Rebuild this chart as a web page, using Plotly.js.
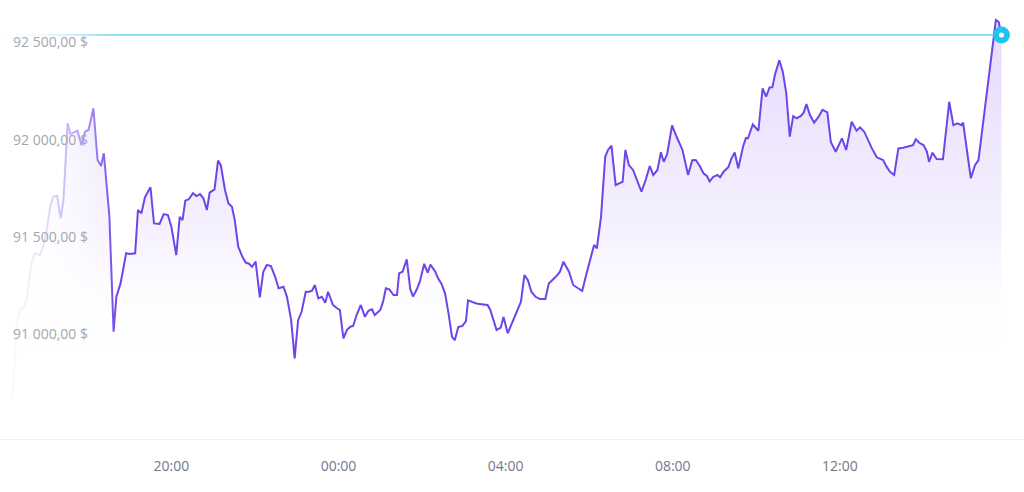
<!DOCTYPE html>
<html>
<head>
<meta charset="utf-8">
<script src="https://cdn.plot.ly/plotly-3.0.1.min.js"></script>
<style>html,body{margin:0;padding:0;background:#fff;}#chart{width:1024px;height:492px;}</style>
</head>
<body>
<div id="chart"></div>
<script>
// Time of each sample (HH:MM); the series runs across midnight into the next day
const startDay = '2025-01-14';
const times = ['16:12','16:18','16:22','16:27','16:32','16:39','16:44','16:51','16:56','17:01','17:06','17:10','17:16','17:21','17:25','17:31','17:35','17:40','17:45','17:51','17:56','18:01','18:08','18:14','18:19','18:23','18:31','18:37','18:41','18:47','18:55','19:00','19:08','19:12','19:17','19:22','19:30','19:35','19:43','19:49','19:55','20:00','20:07','20:12','20:16','20:20','20:25','20:31','20:36','20:41','20:46','20:51','20:55','21:02','21:07','21:11','21:17','21:22','21:27','21:31','21:36','21:42','21:47','21:51','21:56','22:01','22:07','22:12','22:17','22:23','22:29','22:34','22:41','22:46','22:52','22:57','23:02','23:07','23:13','23:18','23:22','23:26','23:31','23:36','23:41','23:45','23:52','23:58','00:02','00:07','00:12','00:17','00:21','00:26','00:32','00:38','00:43','00:48','00:52','01:00','01:04','01:08','01:13','01:19','01:24','01:27','01:32','01:38','01:43','01:47','01:52','01:57','02:03','02:08','02:12','02:19','02:23','02:28','02:33','02:38','02:43','02:47','02:52','02:58','03:03','03:06','03:11','03:18','03:28','03:34','03:38','03:42','03:47','03:53','03:57','04:03','04:09','04:13','04:18','04:22','04:27','04:32','04:37','04:43','04:49','04:57','05:02','05:07','05:13','05:18','05:23','05:31','05:37','05:44','05:50','05:56','06:01','06:07','06:11','06:17','06:23','06:27','06:32','06:38','06:43','06:48','06:52','06:57','07:03','07:10','07:15','07:21','07:27','07:32','07:38','07:43','07:47','07:52','07:59','08:06','08:14','08:22','08:28','08:33','08:39','08:44','08:49','08:53','08:58','09:04','09:08','09:13','09:20','09:24','09:29','09:34','09:41','09:45','09:48','09:55','10:03','10:09','10:14','10:19','10:23','10:27','10:33','10:38','10:43','10:48','10:53','10:58','11:04','11:08','11:12','11:17','11:23','11:29','11:35','11:42','11:47','11:54','12:03','12:09','12:17','12:24','12:29','12:35','12:41','12:46','12:53','13:02','13:07','13:12','13:18','13:24','13:31','13:38','13:45','13:49','13:54','14:00','14:05','14:08','14:13','14:19','14:28','14:37','14:43','14:49','14:54','14:57','15:03','15:08','15:14','15:19','15:44','15:48','15:52'];
// Price (USD)
const prices = [90668,91054,91123,91132,91174,91363,91415,91406,91449,91535,91655,91706,91710,91595,91689,92084,92029,92036,92046,91972,92041,92050,92161,91895,91864,91930,91603,91011,91191,91260,91415,91411,91415,91638,91621,91703,91755,91569,91566,91617,91612,91552,91406,91603,91586,91686,91693,91724,91710,91720,91698,91638,91727,91744,91892,91869,91741,91672,91655,91586,91449,91397,91366,91363,91346,91372,91188,91320,91355,91349,91294,91235,91243,91191,91071,90874,91071,91114,91217,91217,91222,91252,91183,91191,91160,91217,91149,91132,91123,90977,91020,91037,91041,91097,91149,91088,91119,91127,91097,91123,91166,91235,91229,91200,91200,91312,91320,91384,91231,91193,91226,91272,91361,91315,91357,91320,91286,91257,91209,91106,90985,90968,91035,91041,91066,91173,91166,91157,91152,91149,91123,91077,91020,91033,91087,91003,91054,91097,91140,91166,91303,91277,91217,91191,91180,91180,91260,91277,91298,91320,91372,91320,91252,91235,91221,91308,91380,91458,91441,91603,91912,91947,91969,91766,91775,91783,91947,91869,91844,91775,91732,91792,91864,91818,91844,91935,91886,91926,92073,92011,91947,91818,91894,91895,91863,91827,91813,91785,91808,91818,91806,91835,91859,91901,91934,91852,91965,92008,92007,92078,92046,92264,92221,92269,92270,92338,92408,92350,92240,92016,92121,92110,92122,92139,92183,92127,92088,92116,92154,92141,91988,91938,92007,91947,92092,92046,92063,92041,91989,91955,91909,91895,91861,91835,91818,91955,91958,91964,91972,92002,91984,91972,91938,91886,91933,91900,91899,92195,92075,92084,92075,92087,91930,91801,91869,91895,92616,92607,92539];
// Axis tick labels
const xTickLabels = ['20:00','00:00','04:00','08:00','12:00'];
const yTickValues = [90500,91000,91500,92000,92500];
const yTickLabels = ['90 500,00 $','91 000,00 $','91 500,00 $','92 000,00 $','92 500,00 $'];

function addDays(dateStr, n){
  const d = new Date(dateStr + 'T00:00:00Z');
  d.setUTCDate(d.getUTCDate() + n);
  return d.toISOString().slice(0,10);
}
function toDates(list, firstDay, startAfter){
  let day = 0, prev = startAfter || '00:00';
  return list.map(hm => {
    if (hm < prev) day++;
    prev = hm;
    return addDays(firstDay, day) + ' ' + hm;
  });
}
const x = toDates(times, startDay);
const xTicks = toDates(xTickLabels, startDay, times[0]);

const xRange = [startDay + ' 15:53:54', addDays(startDay,1) + ' 16:24:24'];
const yRange = [90459, 92719];
const fadeEnd = startDay + ' 18:44';

const lastX = x[x.length-1];
const lastY = prices[prices.length-1];

const traces = [
  {
    x: x, y: prices, type: 'scatter', mode: 'lines',
    line: {color: '#6e45e9', width: 2},
    fill: 'tozeroy',
    fillgradient: {type: 'vertical', start: 90900, stop: 92650,
      colorscale: [[0,'rgba(255,255,255,0)'],[0.35,'rgba(160,120,245,0.10)'],[1,'rgba(150,110,245,0.26)']]},
    hoverinfo: 'skip'
  },
  {
    x: [xRange[0], fadeEnd, fadeEnd, xRange[0]],
    y: [yRange[0], yRange[0], yRange[1], yRange[1]],
    type: 'scatter', mode: 'lines', line: {width: 0, color: 'rgba(0,0,0,0)'},
    fill: 'toself',
    fillgradient: {type: 'horizontal',
      colorscale: [[0,'rgba(255,255,255,1)'],[0.1,'rgba(255,255,255,0.97)'],[0.35,'rgba(255,255,255,0.86)'],[0.6,'rgba(255,255,255,0.6)'],[0.82,'rgba(255,255,255,0.28)'],[1,'rgba(255,255,255,0)']]},
    hoverinfo: 'skip'
  },
  {
    x: [lastX], y: [lastY], type: 'scatter', mode: 'markers',
    marker: {size: 17, color: '#1ec3f0'}, hoverinfo: 'skip'
  },
  {
    x: [lastX], y: [lastY], type: 'scatter', mode: 'markers',
    marker: {size: 5, color: '#ffffff'}, hoverinfo: 'skip'
  }
];

const layout = {
  width: 1024, height: 492,
  margin: {l: 0, r: 0, t: 0, b: 53},
  paper_bgcolor: '#ffffff', plot_bgcolor: '#ffffff',
  showlegend: false,
  font: {family: 'Open Sans, sans-serif'},
  xaxis: {
    type: 'date', range: xRange,
    tickvals: xTicks, ticktext: xTickLabels,
    showgrid: false, zeroline: false,
    showline: true, linecolor: '#efeff2', linewidth: 1, mirror: true,
    ticks: '', ticklabelstandoff: 14,
    tickfont: {size: 14, color: '#76768a', family: 'Open Sans, sans-serif'}
  },
  yaxis: {
    range: yRange,
    tickvals: yTickValues, ticktext: yTickLabels,
    ticklabelposition: 'inside', ticks: '',
    ticklabelstandoff: 10,
    showgrid: false, zeroline: false, showline: false,
    tickfont: {size: 14, color: '#a6a6ae', family: 'Open Sans, sans-serif'}
  },
  shapes: [{
    type: 'line', layer: 'below', xref: 'x', yref: 'y',
    x0: xRange[0], x1: lastX, y0: lastY, y1: lastY,
    line: {color: '#5fd3f2', width: 1.5}
  }]
};

Plotly.newPlot('chart', traces, layout, {staticPlot: true, displayModeBar: false});
</script>
</body>
</html>
